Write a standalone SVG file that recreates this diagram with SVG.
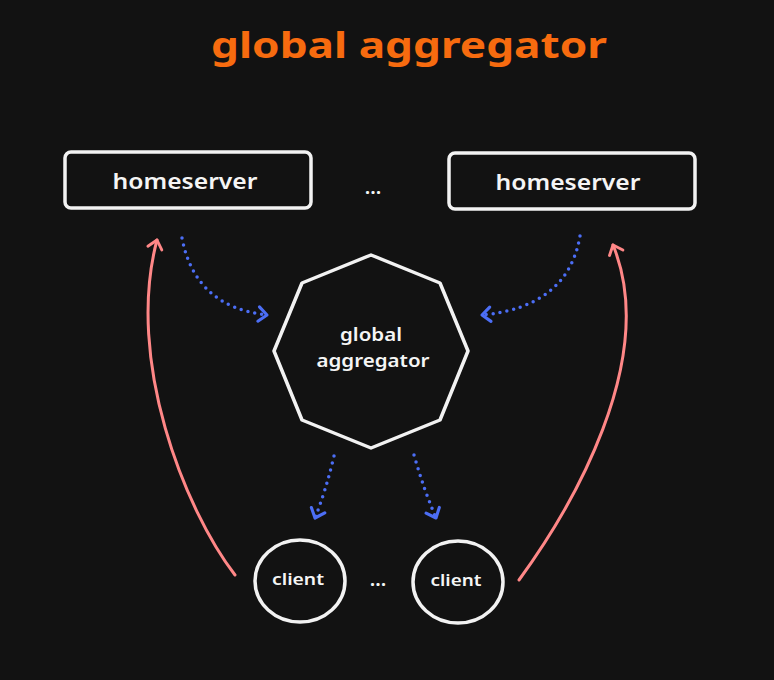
<svg xmlns="http://www.w3.org/2000/svg" width="774" height="680" viewBox="0 0 774 680">
<style>
.bg{fill:#121212}
.box{fill:#121212;stroke:#f2f2f2;stroke-width:3.5}
.lbl{font-family:"Noto Sans","Liberation Sans",sans-serif;fill:#f5f5f5;text-anchor:middle;font-weight:600}
.red{fill:none;stroke:#ff8787;stroke-width:3;stroke-linecap:round}
.blue{fill:none;stroke:#4c6ef5;stroke-width:3.5;stroke-linecap:round;stroke-dasharray:0 7}
</style>
<defs>
<marker id="ahRed" viewBox="0 0 20 20" refX="10" refY="10" markerWidth="24" markerHeight="24" markerUnits="userSpaceOnUse" orient="auto">
<path d="M3,4 L10,10 L3,16" fill="none" stroke="#ff8787" stroke-width="2.4" stroke-linecap="round" stroke-linejoin="round"/>
</marker>
<marker id="ahBlue" viewBox="0 0 20 20" refX="10" refY="10" markerWidth="24" markerHeight="24" markerUnits="userSpaceOnUse" orient="auto">
<path d="M3,4 L10,10 L3,16" fill="none" stroke="#4c6ef5" stroke-width="2.6" stroke-linecap="round" stroke-linejoin="round"/>
</marker>
</defs>
<rect class="bg" x="0" y="0" width="774" height="680"/>
<g id="title">
<text x="409" y="58" font-family="'Noto Sans','Liberation Sans',sans-serif" font-size="36" font-weight="700" fill="#f76b0f" text-anchor="middle" textLength="396" lengthAdjust="spacingAndGlyphs">global aggregator</text>
</g>
<g id="homeserver-left">
<rect class="box" x="65" y="152" width="246" height="56" rx="6"/>
<text class="lbl" x="185" y="189" font-size="22" textLength="145" lengthAdjust="spacingAndGlyphs">homeserver</text>
</g>
<g id="homeserver-right">
<rect class="box" x="449" y="153" width="246" height="56" rx="6"/>
<text class="lbl" x="568" y="190" font-size="22" textLength="145" lengthAdjust="spacingAndGlyphs">homeserver</text>
</g>
<g id="dots-top">
<text class="lbl" x="373" y="194" font-size="20" font-weight="700">...</text>
</g>
<g id="aggregator">
<polygon class="box" points="371,255 440,283 468,351 440,420 371,448 302,420 274,351 302,283" stroke-linejoin="round"/>
<text class="lbl" x="371" y="341" font-size="18" textLength="62" lengthAdjust="spacingAndGlyphs">global</text>
<text class="lbl" x="373" y="367" font-size="18" textLength="113" lengthAdjust="spacingAndGlyphs">aggregator</text>
</g>
<g id="client-left">
<ellipse class="box" cx="300" cy="581" rx="45" ry="41"/>
<text class="lbl" x="298" y="585" font-size="16" textLength="52" lengthAdjust="spacingAndGlyphs">client</text>
</g>
<g id="client-right">
<ellipse class="box" cx="458" cy="582" rx="45" ry="41"/>
<text class="lbl" x="456" y="586" font-size="16" textLength="51" lengthAdjust="spacingAndGlyphs">client</text>
</g>
<g id="dots-bottom">
<text class="lbl" x="378" y="586" font-size="20" font-weight="700">...</text>
</g>
<g id="connectors">
<path class="red" d="M235,575 C185,510 125,360 157,240" marker-end="url(#ahRed)"/>
<path class="red" d="M519,580 C570,510 660,360 613,245" marker-end="url(#ahRed)"/>
<path class="blue" d="M182,238 Q195,307 267,315" marker-end="url(#ahBlue)"/>
<path class="blue" d="M580,236 Q568,307 482,315" marker-end="url(#ahBlue)"/>
<path class="blue" d="M334,456 Q326,490 315,518" marker-end="url(#ahBlue)"/>
<path class="blue" d="M414,455 Q424,490 436,518" marker-end="url(#ahBlue)"/>
</g>
</svg>
